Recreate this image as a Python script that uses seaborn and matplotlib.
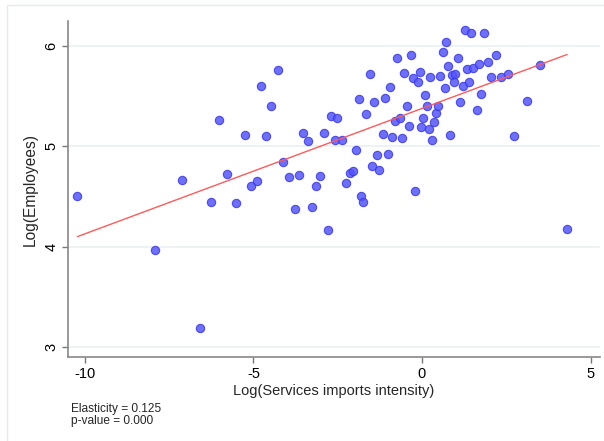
import numpy as np
import pandas as pd
import matplotlib
matplotlib.use("Agg")
import matplotlib.pyplot as plt
import seaborn as sns
from matplotlib.patches import Rectangle

# Data
import_intensity = [
    -10.22, -7.92, -7.12, -6.57, -6.26, -6.02, -5.79, -5.53, -5.26, -5.07,
    -4.90, -4.78, -4.63, -4.49, -4.28, -4.11, -3.93, -3.76, -3.65, -3.52,
    -3.39, -3.26, -3.14, -3.02, -2.92, -2.80, -2.69, -2.51, -2.58, -2.37,
    -2.26, -2.14, -2.04, -1.95, -1.87, -1.82, -1.76, -1.66, -1.55, -1.47,
    -1.42, -1.34, -1.27, -1.17, -1.09, -1.02, -0.95, -0.89, -0.80, -0.75,
    -0.65, -0.59, -0.53, -0.45, -0.40, -0.33, -0.27, -0.21, -0.13, -0.07,
    -0.02, 0.04, 0.08, 0.14, 0.20, 0.25, 0.31, 0.37, 0.42, 0.47,
    0.54, 0.62, 0.67, 0.72, 0.78, 0.84, 0.89, 0.99, 0.94, 1.06,
    1.14, 1.21, 1.28, 1.33, 1.38, 1.46, 1.52, 1.62, 1.68, 1.76,
    1.84, 1.95, 2.04, 2.20, 2.35, 2.54, 2.74, 3.10, 3.50, 4.30,
]
log_employees = [
    4.51, 3.97, 4.66, 3.19, 4.45, 5.26, 4.72, 4.44, 5.11, 4.60,
    4.65, 5.60, 5.10, 5.40, 5.76, 4.84, 4.69, 4.38, 4.71, 5.13,
    5.05, 4.40, 4.60, 4.70, 5.13, 4.17, 5.30, 5.28, 5.06, 5.06,
    4.63, 4.73, 4.75, 4.96, 5.47, 4.51, 4.45, 5.32, 5.72, 4.80,
    5.44, 4.91, 4.76, 5.12, 5.48, 4.92, 5.59, 5.09, 5.25, 5.88,
    5.28, 5.08, 5.73, 5.40, 5.20, 5.91, 5.68, 4.56, 5.64, 5.74,
    5.19, 5.28, 5.51, 5.40, 5.17, 5.69, 5.06, 5.24, 5.33, 5.40,
    5.70, 5.94, 5.58, 6.04, 5.80, 5.11, 5.71, 5.72, 5.64, 5.88,
    5.44, 5.60, 6.16, 5.77, 5.64, 6.13, 5.78, 5.36, 5.82, 5.52,
    6.13, 5.84, 5.69, 5.91, 5.69, 5.72, 5.10, 5.45, 5.81, 4.18,
]
x_ticks = [-10, -5, 0, 5]
y_ticks = [3, 4, 5, 6]
x_label = "Log(Services imports intensity)"
y_label = "Log(Employees)"
note_lines = ["Elasticity = 0.125", "p-value = 0.000"]

df = pd.DataFrame({"x": import_intensity, "y": log_employees})

sns.set_theme(style="white")
plt.rcParams["font.family"] = ["Liberation Sans", "DejaVu Sans"]

fig = plt.figure(figsize=(6.04, 4.41), dpi=100)
fig.patch.set_facecolor("white")
# faint outer frame (graph region border)
fig.add_artist(Rectangle((7 / 604, -0.1), 1.2, 1.1 - 5 / 441,
                         transform=fig.transFigure, fill=False,
                         edgecolor="#e3ecef", linewidth=1.0))

ax = fig.add_axes([68 / 604, 1 - 357 / 441, (600 - 68) / 604, (357 - 21) / 441])
ax.set_facecolor("white")

for yv in y_ticks:
    ax.axhline(yv, color="#eaf1f2", linewidth=1.2, zorder=0)

sns.scatterplot(data=df, x="x", y="y", ax=ax, s=36, color="#5555ff",
                alpha=0.85, edgecolor="#3a3ae8", linewidth=0.8, zorder=3)
sns.regplot(data=df, x="x", y="y", ax=ax, scatter=False, ci=None,
            truncate=True, line_kws={"color": "#ff5a5a", "linewidth": 1.0,
                                     "zorder": 4})

ax.set_xlim(-10.5, 5.28)
ax.set_ylim(2.90, 6.25)
ax.set_xticks(x_ticks)
ax.set_yticks(y_ticks)
ax.set_xticklabels([str(v) for v in x_ticks], fontsize=10.5)
ax.set_yticklabels([str(v) for v in y_ticks], fontsize=10.5, rotation=90,
                   va="center")
ax.tick_params(axis="both", direction="out", length=4, width=1,
               color="#777777", labelcolor="black", pad=3, left=True,
               bottom=True)
for side in ["top", "right"]:
    ax.spines[side].set_visible(False)
for side in ["left", "bottom"]:
    ax.spines[side].set_color("#888888")
    ax.spines[side].set_linewidth(1.2)

ax.set_xlabel(x_label, fontsize=10.5, labelpad=2)
ax.set_ylabel(y_label, fontsize=11.2, labelpad=5)

fig.text(71 / 604, 1 - 409 / 441, note_lines[0], fontsize=8.6, va="center")
fig.text(71 / 604, 1 - 421 / 441, note_lines[1], fontsize=8.6, va="center")

fig.savefig("out.png", dpi=100)
